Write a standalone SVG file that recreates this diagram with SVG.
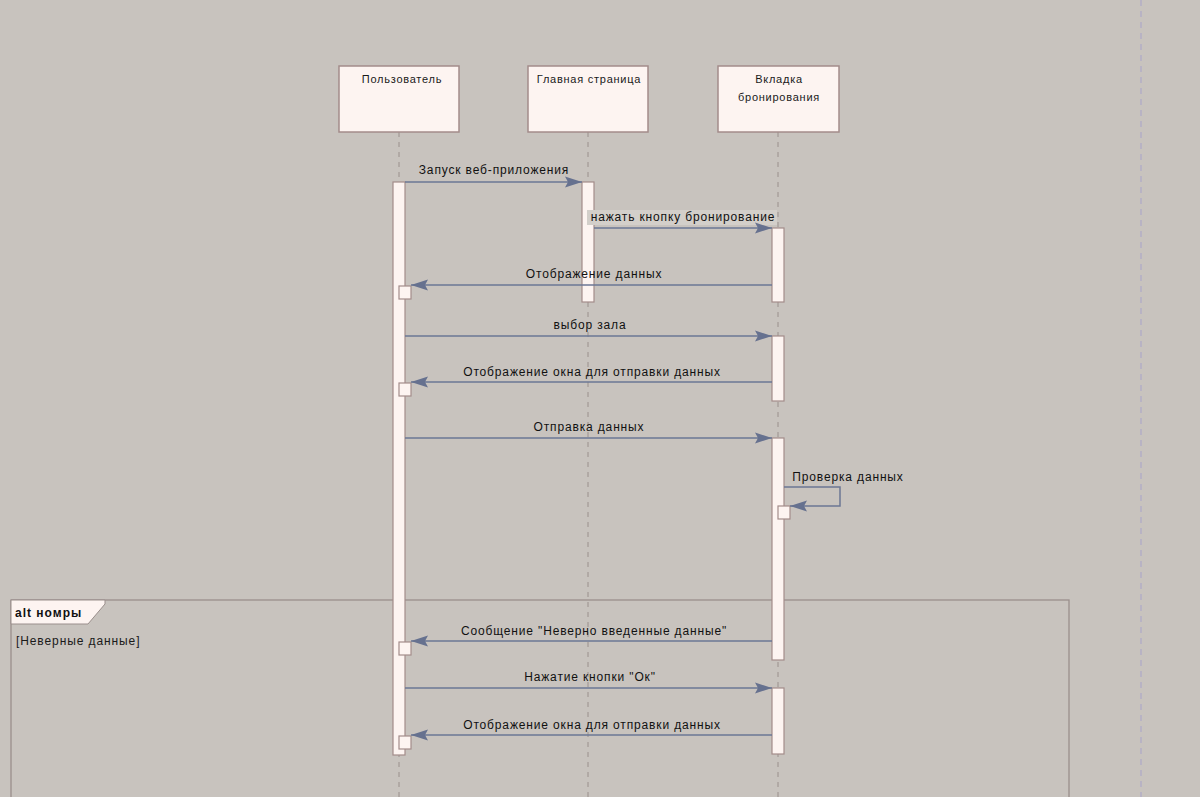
<svg xmlns="http://www.w3.org/2000/svg" width="1200" height="797" viewBox="0 0 1200 797">
<style>
.bg{fill:#c8c3be}
.head{fill:#fdf4f1;stroke:#a38c8a;stroke-width:1.5}
.ht{font-family:"Liberation Sans",Arial,sans-serif;font-size:11px;letter-spacing:0.75px;fill:#1a1a1a;text-anchor:middle}
.life{stroke:#9a908c;stroke-width:1;stroke-dasharray:5 5;fill:none}
.act{fill:#fdf4f1;stroke:#a38c8a;stroke-width:1.2}
.msg{stroke:#6b7794;stroke-width:1.5;fill:none}
.lbl{font-family:"Liberation Sans",Arial,sans-serif;font-size:12px;letter-spacing:0.85px;fill:#111;text-anchor:middle}
.frame{fill:none;stroke:#9a8f8c;stroke-width:1.3}
</style>
<defs>
<marker id="ah" viewBox="0 0 17 12" refX="17" refY="6" markerWidth="17" markerHeight="12" markerUnits="userSpaceOnUse" orient="auto">
<path d="M0,0.5 L17,6 L0,11.5 L3,6 Z" fill="#66718f"/>
</marker>
</defs>
<rect class="bg" x="0" y="0" width="1200" height="797"/>
<line x1="1141" y1="0" x2="1141" y2="797" stroke="#b2aec6" stroke-width="1.5" stroke-dasharray="6 5"/>

<g id="lifelines">
<line class="life" x1="399" y1="132" x2="399" y2="797"/>
<line class="life" x1="588" y1="132" x2="588" y2="797"/>
<line class="life" x1="778" y1="132" x2="778" y2="797"/>
</g>

<g id="node-user">
<rect class="head" x="339" y="66" width="120" height="66"/>
<text class="ht" x="402" y="83">Пользователь</text>
</g>
<g id="node-main">
<rect class="head" x="528" y="66" width="120" height="66"/>
<text class="ht" x="589" y="83">Главная страница</text>
</g>
<g id="node-tab">
<rect class="head" x="718" y="66" width="121" height="66"/>
<text class="ht" x="779" y="83">Вкладка</text>
<text class="ht" x="779" y="101">бронирования</text>
</g>

<g id="frame-alt">
<rect class="frame" x="11" y="600" width="1058" height="210"/>
<path d="M11,600 L105,600 L105,604 L88,624 L11,624 Z" fill="#fdf4f1" stroke="#9a8f8c" stroke-width="1"/>
<text x="15" y="617" font-family="Liberation Sans,Arial,sans-serif" font-size="12" font-weight="bold" letter-spacing="1" fill="#111">alt номры</text>
<text x="16" y="645" font-family="Liberation Sans,Arial,sans-serif" font-size="12" letter-spacing="0.9" fill="#1a1a1a">[Неверные данные]</text>
</g>

<g id="activations">
<rect class="act" x="393" y="182" width="12" height="573"/>
<rect class="act" x="582" y="182" width="12" height="120"/>
<rect class="act" x="772" y="228" width="12" height="74"/>
<rect class="act" x="772" y="336" width="12" height="65"/>
<rect class="act" x="772" y="438" width="12" height="222"/>
<rect class="act" x="772" y="688" width="12" height="66"/>
<rect class="act" x="399" y="286" width="12" height="13"/>
<rect class="act" x="399" y="383" width="12" height="13"/>
<rect class="act" x="399" y="642" width="12" height="13"/>
<rect class="act" x="399" y="736" width="12" height="13"/>
<rect class="act" x="778" y="506" width="12" height="13"/>
</g>

<g id="connectors">
<line class="msg" x1="405" y1="182" x2="582" y2="182" marker-end="url(#ah)"/>
<text class="lbl" x="494" y="174">Запуск веб-приложения</text>

<rect x="587" y="210" width="190" height="15" fill="#d3cfca"/>
<line class="msg" x1="594" y1="228" x2="772" y2="228" marker-end="url(#ah)"/>
<text class="lbl" x="683" y="221">нажать кнопку бронирование</text>

<line class="msg" x1="772" y1="285" x2="411" y2="285" marker-end="url(#ah)"/>
<text class="lbl" x="594" y="278">Отображение данных</text>

<line class="msg" x1="405" y1="336" x2="772" y2="336" marker-end="url(#ah)"/>
<text class="lbl" x="590" y="329">выбор зала</text>

<line class="msg" x1="772" y1="382" x2="411" y2="382" marker-end="url(#ah)"/>
<text class="lbl" x="592" y="376">Отображение окна для отправки данных</text>

<line class="msg" x1="405" y1="438" x2="772" y2="438" marker-end="url(#ah)"/>
<text class="lbl" x="589" y="431">Отправка данных</text>

<path class="msg" d="M784,487 L840,487 L840,506 L790,506" marker-end="url(#ah)"/>
<text class="lbl" x="848" y="481">Проверка данных</text>

<line class="msg" x1="772" y1="641" x2="411" y2="641" marker-end="url(#ah)"/>
<text class="lbl" x="594" y="635">Сообщение "Неверно введенные данные"</text>

<line class="msg" x1="405" y1="688" x2="772" y2="688" marker-end="url(#ah)"/>
<text class="lbl" x="590" y="681">Нажатие кнопки "Ок"</text>

<line class="msg" x1="772" y1="735" x2="411" y2="735" marker-end="url(#ah)"/>
<text class="lbl" x="592" y="729">Отображение окна для отправки данных</text>
</g>
</svg>
